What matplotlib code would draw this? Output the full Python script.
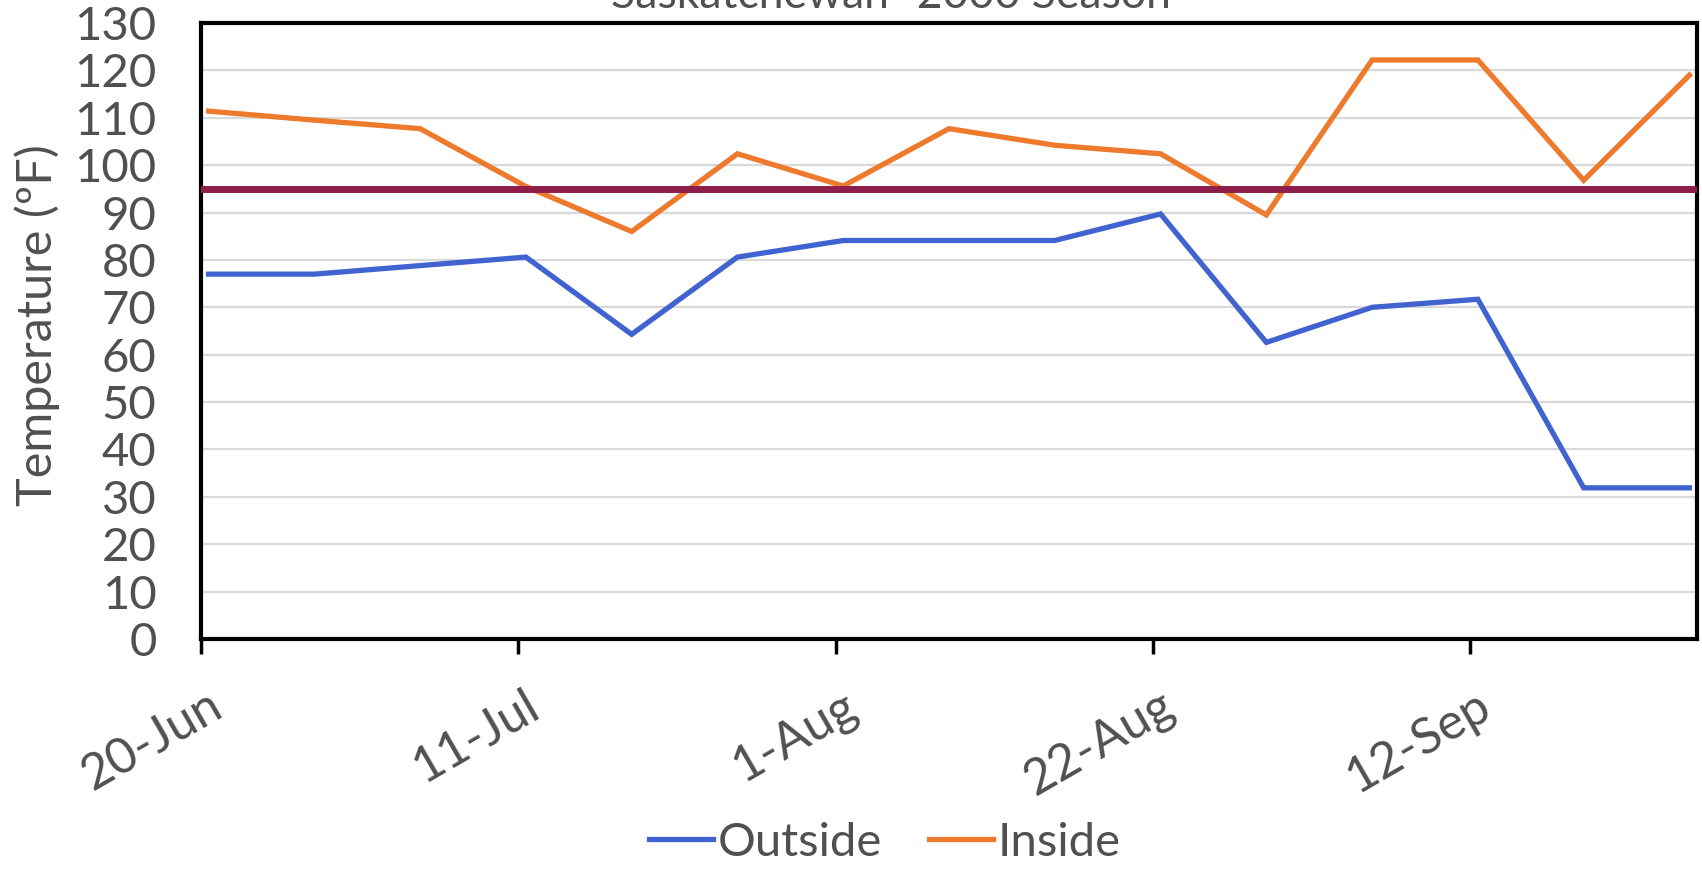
import numpy as np
import pandas as pd
import matplotlib
matplotlib.use("Agg")
import matplotlib.pyplot as plt
import matplotlib.dates as mdates
import matplotlib.transforms as mtransforms

plt.rcParams['font.family'] = ['Lato', 'DejaVu Sans']

# weekly readings, 2000 season
dates = pd.date_range("2000-06-20", "2000-09-26", freq="7D")
outside = [77.0, 77.0, 78.8, 80.6, 64.3, 80.6, 84.1, 84.1, 84.1, 89.7,
           62.6, 70.0, 71.7, 31.9, 31.9]
inside = [111.4, 109.5, 107.7, 95.5, 86.0, 102.4, 95.6, 107.7, 104.2, 102.4,
          89.5, 122.2, 122.2, 96.8, 119.0]
threshold = 95
tick_dates = pd.date_range("2000-06-20", periods=5, freq="21D")
x_end = pd.Timestamp("2000-09-27")

title = "Saskatchewan- 2000 Season"
ylabel = "Temperature (\u00baF)"
grey = "#505050"

# points sit in the middle of each day slot
x = dates + pd.Timedelta(hours=12)

fig = plt.figure(figsize=(17.02, 8.69), dpi=100)
ax = fig.add_axes([201 / 1702, 1 - 639 / 869, (1697 - 201) / 1702, (639 - 23) / 869])

ax.plot(x, outside, color="#4063CF", lw=3.8, label="Outside", solid_joinstyle="miter")
ax.plot(x, inside, color="#EE7A2E", lw=3.8, label="Inside", solid_joinstyle="miter")
ax.axhline(threshold, color="#8E1D4A", lw=5, zorder=3)

ax.set_xlim(dates[0], x_end)
ax.set_ylim(0, 130)
ax.set_yticks(np.arange(0, 131, 10))
ax.set_xticks(tick_dates)
ax.xaxis.set_major_formatter(mdates.DateFormatter("%-d-%b"))

ax.grid(axis="y", color="#D9D9D9", lw=1.6)
ax.set_axisbelow(True)
for s in ax.spines.values():
    s.set_color("black")
    s.set_linewidth(3)

ax.tick_params(axis="y", length=0, pad=32, labelsize=34, labelcolor=grey)
ax.tick_params(axis="x", length=11, width=2.5, direction="out", pad=20,
               labelsize=36, labelcolor=grey)
shift = mtransforms.ScaledTranslation(6 / 100, 0, fig.dpi_scale_trans)
for lab in ax.get_xticklabels():
    lab.set_rotation(30)
    lab.set_ha("right")
    lab.set_rotation_mode("anchor")
    lab.set_transform(lab.get_transform() + shift)

ax.set_ylabel(ylabel, fontsize=35, color=grey)
ax.yaxis.set_label_coords(-0.094, 0.51)

fig.text(891 / 1702, 1 - 8 / 869, title, ha="center", va="baseline",
         fontsize=32, color=grey)

leg = fig.legend(loc="center", bbox_to_anchor=(885 / 1702, 1 - 843 / 869), ncol=2,
                 frameon=False, fontsize=34, handlelength=1.35, handletextpad=0.1,
                 columnspacing=1.0, labelcolor=grey)

fig.savefig("out.png", dpi=100, facecolor="white")
